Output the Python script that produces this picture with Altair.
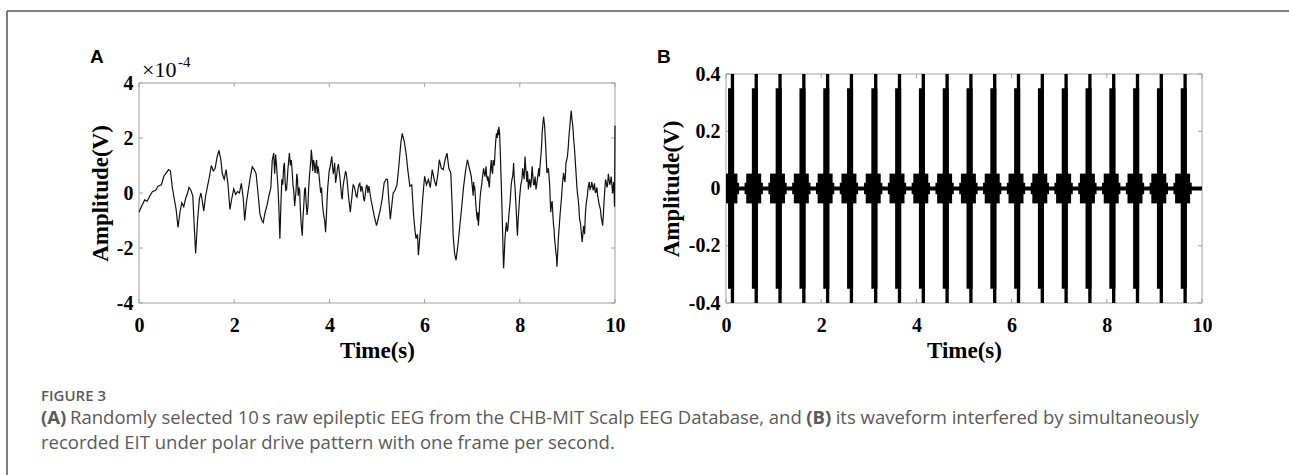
import altair as alt
import pandas as pd

# ---------------- data ----------------
# Panel A: raw EEG, (time s, amplitude in units of 1e-4 V) - main waveform readings
eeg_points = [
    (0.00, -0.70), (0.05, -0.50), (0.12, -0.25), (0.17, -0.30), (0.23, -0.10), (0.28, 0.05),
    (0.35, 0.10), (0.40, 0.25), (0.47, 0.30), (0.52, 0.60), (0.58, 0.75), (0.62, 0.85),
    (0.66, 0.80), (0.70, 0.20), (0.74, -0.20), (0.78, -0.60), (0.82, -1.25), (0.86, -0.70),
    (0.90, -0.35), (0.94, -0.50), (0.98, -0.20), (1.02, 0.00), (1.05, 0.20), (1.09, 0.10),
    (1.13, -0.10), (1.16, -1.20), (1.19, -2.20), (1.23, -1.00), (1.27, -0.20), (1.30, 0.00),
    (1.33, -0.30), (1.36, -0.65), (1.40, -0.10), (1.44, 0.25), (1.48, 0.60), (1.52, 1.00),
    (1.56, 0.80), (1.60, 0.90), (1.64, 1.30), (1.68, 1.55), (1.72, 1.20), (1.75, 0.70),
    (1.79, 0.50), (1.83, 0.85), (1.87, 0.30), (1.91, -0.60), (1.95, -0.20), (1.99, 0.15),
    (2.03, -0.05), (2.07, 0.05), (2.11, 0.00), (2.15, 0.35), (2.19, -0.20), (2.22, -1.00),
    (2.26, -0.30), (2.30, 0.15), (2.34, 0.60), (2.38, 0.95), (2.42, 0.85), (2.46, 0.70),
    (2.50, 0.00), (2.54, -0.75), (2.58, -1.00), (2.61, -1.07), (2.65, -0.70), (2.69, -0.45),
    (2.73, -0.10), (2.77, 0.20),
    (2.80, 1.20), (2.83, 1.45), (2.85, 0.70), (2.87, 1.40), (2.89, 0.97), (2.92, 0.20),
    (2.94, -0.60), (2.96, -1.66), (2.98, -0.50), (3.00, 0.50), (3.04, 0.97), (3.07, 0.40),
    (3.10, 0.13), (3.13, 0.90), (3.16, 1.45), (3.18, 1.00), (3.22, 0.73), (3.25, 0.10),
    (3.27, -0.47), (3.30, 0.10), (3.33, 0.50), (3.36, 0.20), (3.39, -0.60), (3.41, -1.20),
    (3.43, -1.55), (3.46, -0.50), (3.48, 0.13), (3.51, -0.30), (3.55, -0.47), (3.58, 0.60),
    (3.61, 1.20), (3.62, 1.57), (3.65, 0.80), (3.68, 1.10), (3.70, 0.73), (3.73, 1.20),
    (3.76, 0.97), (3.79, 0.50), (3.82, 0.00), (3.85, -0.30), (3.88, -0.80), (3.92, -1.43),
    (3.95, -0.30), (3.98, 0.49), (4.01, 0.90), (4.05, 1.33), (4.08, 0.70), (4.11, 1.10),
    (4.13, 0.37), (4.17, 0.90), (4.21, 0.73), (4.24, 0.20), (4.27, -0.23), (4.30, 0.40),
    (4.34, 0.80), (4.37, 0.49), (4.40, -0.10), (4.44, -0.70), (4.47, -0.20), (4.50, 0.30),
    (4.52, 0.25), (4.56, -0.10), (4.60, 0.13), (4.64, 0.35), (4.68, 0.25), (4.72, -0.20),
    (4.75, -0.10), (4.79, 0.30), (4.83, 0.25), (4.86, -0.10), (4.90, -0.47),
    (4.95, -0.90), (4.99, -1.19), (5.03, -0.90), (5.07, -0.60), (5.11, -0.20), (5.15, 0.37),
    (5.19, 0.50), (5.22, 0.49), (5.25, -0.30), (5.28, -0.95), (5.32, -0.30), (5.34, 0.00),
    (5.38, 0.10), (5.42, 0.30), (5.46, 1.00), (5.50, 1.80), (5.53, 2.17), (5.57, 1.90),
    (5.61, 1.45), (5.65, 0.80), (5.69, 0.25), (5.73, 0.30), (5.77, -0.83), (5.80, -1.40),
    (5.82, -1.66), (5.85, -1.50), (5.87, -2.26), (5.90, -1.60), (5.92, -1.19), (5.96, -0.20),
    (6.00, 0.61), (6.04, 0.30), (6.08, 0.49), (6.12, 0.20), (6.16, 0.85), (6.20, 0.50),
    (6.24, 0.25), (6.28, 0.70), (6.31, 1.21), (6.35, 0.90), (6.39, 0.85), (6.43, 1.20),
    (6.47, 1.45), (6.51, 0.90), (6.55, 0.73), (6.58, -0.50), (6.60, -1.55), (6.63, -2.20),
    (6.66, -2.44), (6.70, -1.90), (6.74, -1.19), (6.78, -0.50), (6.82, 0.25), (6.86, 0.80),
    (6.90, 1.21), (6.94, 0.90), (6.98, 0.61),
    (7.01, 0.10), (7.03, 0.40), (7.05, 0.25), (7.08, -0.50), (7.11, -1.00), (7.13, -1.19),
    (7.16, -0.30), (7.19, 0.20), (7.21, 0.49), (7.24, 0.90), (7.27, 0.60), (7.29, 0.97),
    (7.32, 0.50), (7.35, 0.30), (7.37, 0.49), (7.40, 1.20), (7.43, 0.70), (7.45, 1.09),
    (7.48, 1.50), (7.51, 2.17), (7.54, 2.30), (7.56, 2.41), (7.59, 1.50), (7.61, 0.37),
    (7.64, -1.50), (7.66, -2.74), (7.69, -1.60), (7.72, -1.07), (7.75, -1.30), (7.79, -0.47),
    (7.82, 0.30), (7.85, 0.60), (7.87, 1.09), (7.90, 0.20), (7.93, -0.80), (7.95, -1.55),
    (7.98, -0.60), (8.01, 0.10), (8.03, 0.37), (8.06, 0.90), (8.09, 0.50), (8.11, 1.33),
    (8.14, 0.60), (8.16, 0.80), (8.18, 0.13), (8.21, 0.50), (8.24, 0.40), (8.26, 0.97),
    (8.29, 0.30), (8.32, 0.60), (8.34, 0.13), (8.37, 0.50), (8.40, 0.90), (8.42, 0.85),
    (8.45, 1.50), (8.47, 2.20), (8.50, 2.77), (8.52, 2.50), (8.55, 1.50), (8.57, 0.73),
    (8.60, 0.90), (8.63, 0.20), (8.65, -0.70), (8.68, -0.30), (8.71, -1.20), (8.73, -1.66),
    (8.76, -2.20), (8.78, -2.68), (8.81, -1.70), (8.83, -1.19), (8.86, -0.50), (8.89, 0.20),
    (8.92, 0.73), (8.95, 0.40), (8.97, 1.10), (9.00, 1.33), (9.03, 2.00), (9.06, 2.60),
    (9.08, 3.00), (9.11, 2.50), (9.13, 2.00), (9.16, 1.33), (9.19, 0.50), (9.21, 0.00),
    (9.24, -0.47), (9.26, -1.00), (9.29, -1.40), (9.31, -1.78), (9.34, -1.20), (9.36, -1.50),
    (9.38, -0.70), (9.41, -0.20), (9.43, 0.13), (9.46, 0.40), (9.49, 0.25), (9.51, 0.40),
    (9.54, 0.10), (9.57, 0.35), (9.59, 0.00), (9.62, 0.20), (9.65, -0.23), (9.68, -0.50),
    (9.71, -0.90), (9.74, -1.19), (9.77, -0.30), (9.80, 0.49), (9.83, 0.20), (9.86, 0.70),
    (9.89, 0.30), (9.92, 0.60), (9.95, 0.00), (9.97, 0.40), (9.99, -0.50), (10.00, 2.45),
]

# Panel A: extra readings of the fast jitter in the two busy stretches (same units)
eeg_fast_points = [
    (3.02, 0.30), (3.055, 1.10), (3.085, 0.10), (3.115, 0.50), (3.20, 1.20), (3.235, 0.30),
    (3.315, 0.70), (3.345, -0.10), (3.375, 0.10), (3.445, -0.90), (3.495, 0.20), (3.53, -0.80),
    (3.565, 0.20), (3.595, 0.90), (3.635, 1.30), (3.665, 1.20), (3.715, 1.00), (3.745, 0.70),
    (3.775, 0.80), (3.805, 0.20), (3.835, 0.20), (3.865, -0.60), (3.90, -1.00), (3.935, -0.90),
    (3.965, 0.20), (3.995, 0.80), (4.03, 1.10), (4.065, 1.00), (4.095, 0.80), (4.15, 0.60),
    (4.19, 1.05), (4.225, 0.50), (4.255, -0.10), (4.285, 0.20), (4.32, 0.60), (4.355, 0.70),
    (4.385, 0.20), (4.42, -0.40), (4.455, -0.40), (4.485, 0.10), (4.54, 0.10), (4.58, -0.15),
    (4.62, 0.30), (4.66, 0.05), (4.70, 0.10), (4.735, -0.30), (4.77, 0.20), (4.81, 0.00),
    (4.845, 0.10), (4.88, -0.30),
    (7.02, -0.10), (7.04, 0.10), (7.065, -0.10), (7.095, -0.80), (7.12, -0.70), (7.145, -0.80),
    (7.175, 0.00), (7.20, 0.30), (7.225, 0.70), (7.255, 0.70), (7.28, 0.80), (7.305, 0.60),
    (7.335, 0.60), (7.36, 0.20), (7.385, 0.90), (7.415, 0.80), (7.44, 1.20), (7.465, 1.00),
    (7.495, 1.90), (7.525, 2.00), (7.55, 2.10), (7.575, 2.20), (7.60, 0.90), (7.625, -0.50),
    (7.65, -2.20), (7.675, -2.20), (7.705, -1.30), (7.735, -1.40), (7.77, -0.80), (7.805, -0.10),
    (7.835, 0.50), (7.86, 0.80), (7.885, 0.50), (7.915, -0.30), (7.94, -1.20), (7.965, -1.00),
    (7.995, -0.20), (8.02, 0.30), (8.045, 0.50), (8.075, 0.70), (8.10, 0.90), (8.125, 0.90),
    (8.15, 0.40), (8.17, 0.60), (8.195, 0.40), (8.225, 0.20), (8.25, 0.70), (8.275, 0.60),
    (8.305, 0.30), (8.33, 0.40), (8.355, 0.30), (8.385, 0.70), (8.41, 0.60), (8.435, 1.20),
    (8.46, 1.80), (8.485, 2.50), (8.51, 2.60), (8.535, 2.00), (8.56, 1.10), (8.585, 0.80),
    (8.615, 0.60), (8.64, -0.30), (8.665, -0.40), (8.695, -0.80), (8.72, -1.30), (8.745, -1.90),
    (8.77, -2.30), (8.795, -2.20), (8.82, -1.40), (8.845, -0.80), (8.875, -0.20), (8.905, 0.50),
    (8.935, 0.50), (8.96, 0.70), (8.985, 1.20), (9.015, 1.60), (9.045, 2.30), (9.07, 2.80),
    (9.095, 2.70), (9.12, 2.30), (9.145, 1.70), (9.175, 0.90), (9.20, 0.20), (9.225, -0.20),
    (9.25, -0.80), (9.275, -1.10), (9.30, -1.60), (9.325, -1.50), (9.35, -1.30), (9.37, -1.10),
    (9.395, -0.40), (9.42, -0.10), (9.445, 0.30), (9.475, 0.10), (9.50, 0.20), (9.525, 0.30),
    (9.555, 0.20), (9.58, 0.10), (9.605, 0.10), (9.635, -0.10), (9.665, -0.40), (9.695, -0.60),
    (9.725, -1.00), (9.755, -0.80), (9.785, 0.10), (9.815, 0.40), (9.845, 0.30), (9.875, 0.50),
    (9.905, 0.40), (9.935, 0.30), (9.96, 0.20), (9.98, 0.10),
]

# Panel B: EIT bursts (start time of the tallest spike of each burst, s)
burst_start = [0.10, 0.60, 1.10, 1.60, 2.10, 2.60, 3.11, 3.61, 4.11, 4.61,
               5.11, 5.61, 6.11, 6.61, 7.11, 7.61, 8.11, 8.61, 9.11, 9.61]
# burst envelope: segment (from, to) relative to burst_start, and half amplitude (V)
burst_seg_from = [-0.21, -0.175, -0.057, 0.0]
burst_seg_to = [0.175, 0.14, 0.07, 0.07]
burst_seg_amp = [0.02, 0.052, 0.35, 0.42]
carrier_amp = 0.007  # continuous small-amplitude band between bursts

time_ticks = [0, 2, 4, 6, 8, 10]
a_ticks = [-4, -2, 0, 2, 4]
b_ticks = [-0.4, -0.2, 0, 0.2, 0.4]

caption_head = "FIGURE 3"
cap_a_tag = "(A)"
cap_l1a = "Randomly selected 10\u2009s raw epileptic EEG from the CHB-MIT Scalp EEG Database, and"
cap_b_tag = "(B)"
cap_l1b = "its waveform interfered by simultaneously"
cap_l2 = "recorded EIT under polar drive pattern with one frame per second."

# ---------------- layout / style ----------------
W, H = 1289, 475
A_XR, A_YR = [139, 615], [303, 83]
B_XR, B_YR = [726, 1202], [303, 74]
SERIF = "Liberation Serif"
SANS = "Liberation Sans"
CAPF = "Open Sans"
FRAME = "#a0a0a0"
CAP_COL = "#5a5a5a"
TICK_PX = 4
LABEL_SIZE = 20
TITLE_SIZE = 23

# rough Open Sans advance widths (em) for laying out caption pieces
OS_W = {' ': 0.26, '(': 0.296, ')': 0.296, ',': 0.245, '-': 0.322, '.': 0.266,
        'A': 0.633, 'B': 0.648, 'C': 0.631, 'D': 0.729, 'E': 0.556, 'G': 0.728, 'H': 0.738,
        'I': 0.279, 'M': 0.903, 'S': 0.549, 'T': 0.557,
        'a': 0.556, 'b': 0.613, 'c': 0.476, 'd': 0.613, 'e': 0.561, 'f': 0.339, 'g': 0.548,
        'h': 0.614, 'i': 0.253, 'k': 0.525, 'l': 0.253, 'm': 0.930, 'n': 0.614, 'o': 0.604,
        'p': 0.613, 'r': 0.408, 's': 0.477, 't': 0.353, 'u': 0.614, 'v': 0.501, 'w': 0.778,
        'y': 0.501, '\u2009': 0.2}
for d in '0123456789':
    OS_W[d] = 0.572


def os_width(s, size, bold=False):
    w = sum(OS_W.get(c, 0.55) for c in s) * size
    return w * (1.07 if bold else 1.0)


def axis_x(offset):
    return alt.Axis(orient="bottom", offset=offset, values=time_ticks, domain=False, ticks=False,
                    tickSize=0, grid=False, labelFlush=False, labelOverlap=False, labelFont=SERIF,
                    labelFontSize=LABEL_SIZE, labelFontWeight="bold", labelColor="#000",
                    labelPadding=12, labelExpr="'' + datum.value", title="Time(s)",
                    titleFont=SERIF, titleFontSize=TITLE_SIZE, titleFontWeight="bold",
                    titleColor="#000", titlePadding=4)


def axis_y(offset, vals, tpad):
    return alt.Axis(orient="left", offset=offset, values=vals, domain=False, ticks=False,
                    tickSize=0, grid=False, labelFlush=False, labelOverlap=False, labelFont=SERIF,
                    labelFontSize=LABEL_SIZE, labelFontWeight="bold", labelColor="#000",
                    labelPadding=6, labelExpr="'' + datum.value", title="Amplitude(V)",
                    titleFont=SERIF, titleFontSize=TITLE_SIZE, titleFontWeight="bold",
                    titleColor="#000", titlePadding=tpad)


def tick_table(xd, yd, xr, yr, xt, yt):
    lx = TICK_PX * (xd[1] - xd[0]) / abs(xr[1] - xr[0])
    ly = TICK_PX * (yd[1] - yd[0]) / abs(yr[1] - yr[0])
    rows = []
    for v in xt:
        rows.append(dict(x=v, x2=v, y=yd[0], y2=yd[0] + ly))
        rows.append(dict(x=v, x2=v, y=yd[1], y2=yd[1] - ly))
    for v in yt:
        rows.append(dict(x=xd[0], x2=xd[0] + lx, y=v, y2=v))
        rows.append(dict(x=xd[1], x2=xd[1] - lx, y=v, y2=v))
    return pd.DataFrame(rows)


def panel(xd, yd, xr, yr, yt, ax_x, ax_y, marks, letter, letter_dx, letter_dy):
    xs = alt.Scale(domain=xd, range=xr, nice=False, zero=False, clamp=True)
    ys = alt.Scale(domain=yd, range=yr, nice=False, zero=False, clamp=True)

    def X(f):
        return alt.X(f, type="quantitative", scale=xs, axis=ax_x)

    def Y(f):
        return alt.Y(f, type="quantitative", scale=ys, axis=ax_y)

    frame_df = pd.DataFrame(dict(x=[xd[0]], x2=[xd[1]], y=[yd[0]], y2=[yd[1]]))
    frame = alt.Chart(frame_df).mark_rect(fillOpacity=0, stroke=FRAME, strokeWidth=1).encode(
        x=X("x"), x2="x2", y=Y("y"), y2="y2")
    ticks = alt.Chart(tick_table(xd, yd, xr, yr, time_ticks, yt)).mark_rule(
        color=FRAME, strokeWidth=1).encode(x=X("x"), x2="x2", y=Y("y"), y2="y2")
    corner = pd.DataFrame(dict(x=[xd[0]], y=[yd[1]], lab=[letter]))
    lab = alt.Chart(corner).mark_text(font=SANS, fontSize=19, fontWeight="bold", color="#000",
                                      align="left", baseline="alphabetic", dx=letter_dx,
                                      dy=letter_dy).encode(x=X("x"), y=Y("y"), text="lab:N")
    layers = [frame, ticks] + [m(X, Y) for m in marks] + [lab]
    return alt.layer(*layers)


# ---- panel A
eeg_df = pd.DataFrame(eeg_points + eeg_fast_points, columns=["t", "v"]).sort_values("t")


def eeg_line(X, Y):
    return alt.Chart(eeg_df).mark_line(color="#111", strokeWidth=1.2).encode(
        x=X("t"), y=Y("v"), order="t:Q")


exp_df = pd.DataFrame(dict(x=[0], y=[4], base=["\u00d710"], sup=["-4"]))


def exp_base(X, Y):
    return alt.Chart(exp_df).mark_text(font=SERIF, fontSize=22, color="#000", align="left",
                                       baseline="alphabetic", dx=3, dy=-6).encode(
        x=X("x"), y=Y("y"), text="base:N")


def exp_sup(X, Y):
    return alt.Chart(exp_df).mark_text(font=SERIF, fontSize=15, color="#000", align="left",
                                       baseline="alphabetic", dx=39, dy=-16).encode(
        x=X("x"), y=Y("y"), text="sup:N")


panel_a = panel([0, 10], [-4, 4], A_XR, A_YR, a_ticks, axis_x(A_YR[0] - H),
                axis_y(-A_XR[0], a_ticks, 4), [eeg_line, exp_base, exp_sup], "A", -49, -20)

# ---- panel B
rows = [dict(x=0.0, x2=10.0, y=-carrier_amp, y2=carrier_amp)]
for s in burst_start:
    for f, t, a in zip(burst_seg_from, burst_seg_to, burst_seg_amp):
        rows.append(dict(x=s + f, x2=s + t, y=-a, y2=a))
eit_df = pd.DataFrame(rows)


def eit_rects(X, Y):
    return alt.Chart(eit_df).mark_rect(color="#000").encode(x=X("x"), x2="x2", y=Y("y"), y2="y2")


panel_b = panel([0, 10], [-0.4, 0.4], B_XR, B_YR, b_ticks, axis_x(B_YR[0] - H),
                axis_y(-B_XR[0], b_ticks, 5), [eit_rects], "B", -69, -11)

# ---- figure frame and caption
one = pd.DataFrame(dict(k=[0]))
frame_top = alt.Chart(one).mark_rule(color="#555", strokeWidth=1.5).encode(
    x=alt.value(7), x2=alt.value(W), y=alt.value(11))
frame_left = alt.Chart(one).mark_rule(color="#555", strokeWidth=1.5).encode(
    x=alt.value(7), y=alt.value(11), y2=alt.value(H))

CAP_SIZE = 18.5
CAP_X = 41


def cap_text(txt, x, y, bold=False, size=CAP_SIZE, weight=None):
    return alt.Chart(one).mark_text(font=CAPF, fontSize=size,
                                    fontWeight=weight if weight else ("bold" if bold else "normal"),
                                    color=CAP_COL, align="left", baseline="alphabetic").encode(
        x=alt.value(x), y=alt.value(y), text=alt.value(txt))


gap = os_width(" ", CAP_SIZE)
x1 = CAP_X + os_width(cap_a_tag, CAP_SIZE, True) + gap
x2 = x1 + os_width(cap_l1a, CAP_SIZE) + gap
x3 = x2 + os_width(cap_b_tag, CAP_SIZE, True) + gap

captions = [
    cap_text(caption_head, CAP_X, 401, size=15, weight=600),
    cap_text(cap_a_tag, CAP_X, 424, bold=True),
    cap_text(cap_l1a, x1, 424),
    cap_text(cap_b_tag, x2, 424, bold=True),
    cap_text(cap_l1b, x3, 424),
    cap_text(cap_l2, CAP_X, 449),
]

chart = alt.layer(panel_a, panel_b, frame_top, frame_left, *captions).resolve_scale(
    x="independent", y="independent").resolve_axis(x="independent", y="independent").properties(
    width=W, height=H, autosize=alt.AutoSizeParams(type="none"), padding=0,
    background="white").configure_view(stroke=None)

chart.save("out.html", embed_options={"renderer": "svg", "actions": False})
